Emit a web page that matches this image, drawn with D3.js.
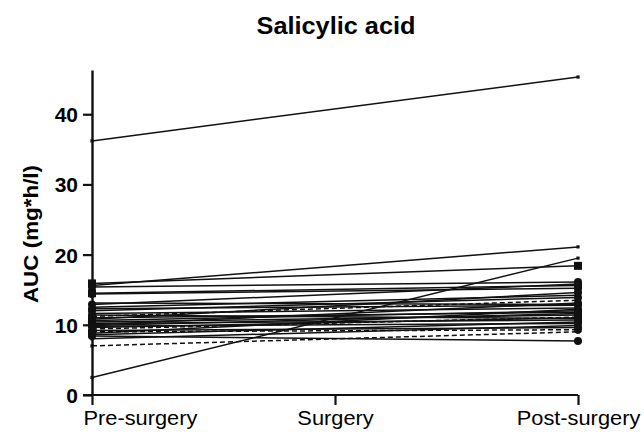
<!DOCTYPE html>
<html>
<head>
<meta charset="utf-8">
<script src="https://cdn.jsdelivr.net/npm/d3@7"></script>
<style>
  html, body { margin: 0; padding: 0; background: #fff; }
  svg { display: block; }
  text { font-family: "Liberation Sans", Arial, Helvetica, sans-serif; fill: #000; }
</style>
</head>
<body>
<svg id="chart" width="644" height="434"></svg>
<script>
// ---- data ----
const categories = ["Pre-surgery", "Surgery", "Post-surgery"];
const preValues  = [36.2, 2.5, 15.6, 15.9, 15.4, 14.5, 14.4, 12.9, 12.5, 12.3, 12.0, 11.6, 11.2, 11.0, 10.8, 10.6,
                    10.4, 10.2, 10.0, 9.8, 9.6, 9.4, 9.2, 9.0, 8.8, 8.6, 8.4, 8.0, 7.0, 9.9, 11.4, 13.1];
const postValues = [45.3, 19.5, 21.1, 18.4, 16.1, 15.6, 15.2, 15.8, 14.2, 12.8, 13.9, 12.4, 13.5, 11.8, 14.6, 12.0,
                    11.4, 10.7, 13.1, 10.2, 11.0, 11.1, 9.6, 9.3, 12.2, 10.4, 7.7, 9.9, 9.0, 11.6, 10.9, 12.9];
const lineDash   = ["s","s","s","s","s","s","s","s","s","s","s","s","d","s","s","s",
                    "s","s","s","s","s","d","s","d","s","s","s","s","d","s","s","s"];
const markers    = ["dot","dot","dot","square","circle","square","circle","circle","dot","circle","circle","dot","dot","circle","circle","circle",
                    "square","square","circle","circle","dot","dot","circle","circle","circle","circle","circle","dot","dot","circle","circle","dot"];
const yTicks = [0, 10, 20, 30, 40];
const titleText = "Salicylic acid";
const yTitleText = "AUC (mg*h/l)";

// ---- layout ----
const svg = d3.select("#chart");
const x = d3.scalePoint().domain(categories).range([92, 578]);
const y = d3.scaleLinear().domain([0, 46.3]).range([395, 70]);

function stretch(sel, factor) {
  sel.each(function () {
    const w = this.getComputedTextLength();
    d3.select(this).attr("textLength", w * factor).attr("lengthAdjust", "spacingAndGlyphs");
  });
}

// title
svg.append("text")
  .attr("x", 336).attr("y", 34)
  .attr("text-anchor", "middle")
  .style("font-size", "23px").style("font-weight", "bold")
  .text(titleText)
  .call(stretch, 1.1);

// y axis title
svg.append("text")
  .attr("transform", "translate(38,234) rotate(-90)")
  .attr("text-anchor", "middle")
  .style("font-size", "20px").style("font-weight", "bold")
  .text(yTitleText)
  .call(stretch, 1.12);

// series lines
const data = preValues.map((p, i) => ({ pre: p, post: postValues[i], dash: lineDash[i], marker: markers[i] }));
const line = d3.line().x(d => x(d.c)).y(d => y(d.v));
const g = svg.append("g");
data.forEach(d => {
  const pts = [{ c: categories[0], v: d.pre }, { c: categories[2], v: d.post }];
  g.append("path")
    .attr("d", line(pts))
    .attr("fill", "none")
    .attr("stroke", "#111")
    .attr("stroke-width", 1.5)
    .attr("stroke-dasharray", d.dash === "d" ? "5,3" : null);
});

// y axis
const yAxis = d3.axisLeft(y).tickValues(yTicks).tickSize(9).tickSizeOuter(0).tickPadding(5);
const yg = svg.append("g").attr("transform", `translate(${x(categories[0])},0)`).call(yAxis);
yg.select(".domain").attr("stroke", "#111").attr("stroke-width", 2.4);
yg.selectAll(".tick line").attr("stroke", "#111").attr("stroke-width", 2.2);
yg.selectAll(".tick text")
  .style("font-size", "21px").style("font-weight", "bold")
  .attr("fill", "#000").attr("dy", "0.36em");

// x axis
const xAxis = d3.axisBottom(x).tickSize(10).tickSizeOuter(0).tickPadding(5);
const xg = svg.append("g").attr("transform", `translate(0,${y(0)})`).call(xAxis);
xg.select(".domain").attr("stroke", "#111").attr("stroke-width", 2.2)
  .attr("d", `M${x(categories[0]) - 9},0H${x(categories[2])}`);
xg.selectAll(".tick line").attr("stroke", "#111").attr("stroke-width", 2.2);
xg.selectAll(".tick text")
  .style("font-size", "20px")
  .attr("fill", "#000")
  .attr("y", 30).attr("dy", 0)
  .call(stretch, 1.09);
xg.selectAll(".tick text").filter(d => d === categories[0])
  .attr("text-anchor", "start").attr("x", -9);

// markers
const mg = svg.append("g");
data.forEach(d => {
  [[categories[0], d.pre], [categories[2], d.post]].forEach(([c, v]) => {
    const cx = x(c), cy = y(v);
    if (d.marker === "square") {
      mg.append("rect").attr("x", cx - 4).attr("y", cy - 4).attr("width", 8).attr("height", 8).attr("fill", "#111");
    } else if (d.marker === "circle") {
      mg.append("circle").attr("cx", cx).attr("cy", cy).attr("r", 4).attr("fill", "#111");
    } else {
      mg.append("rect").attr("x", cx - 1.6).attr("y", cy - 1.6).attr("width", 3.2).attr("height", 3.2).attr("fill", "#111");
    }
  });
});
</script>
</body>
</html>
